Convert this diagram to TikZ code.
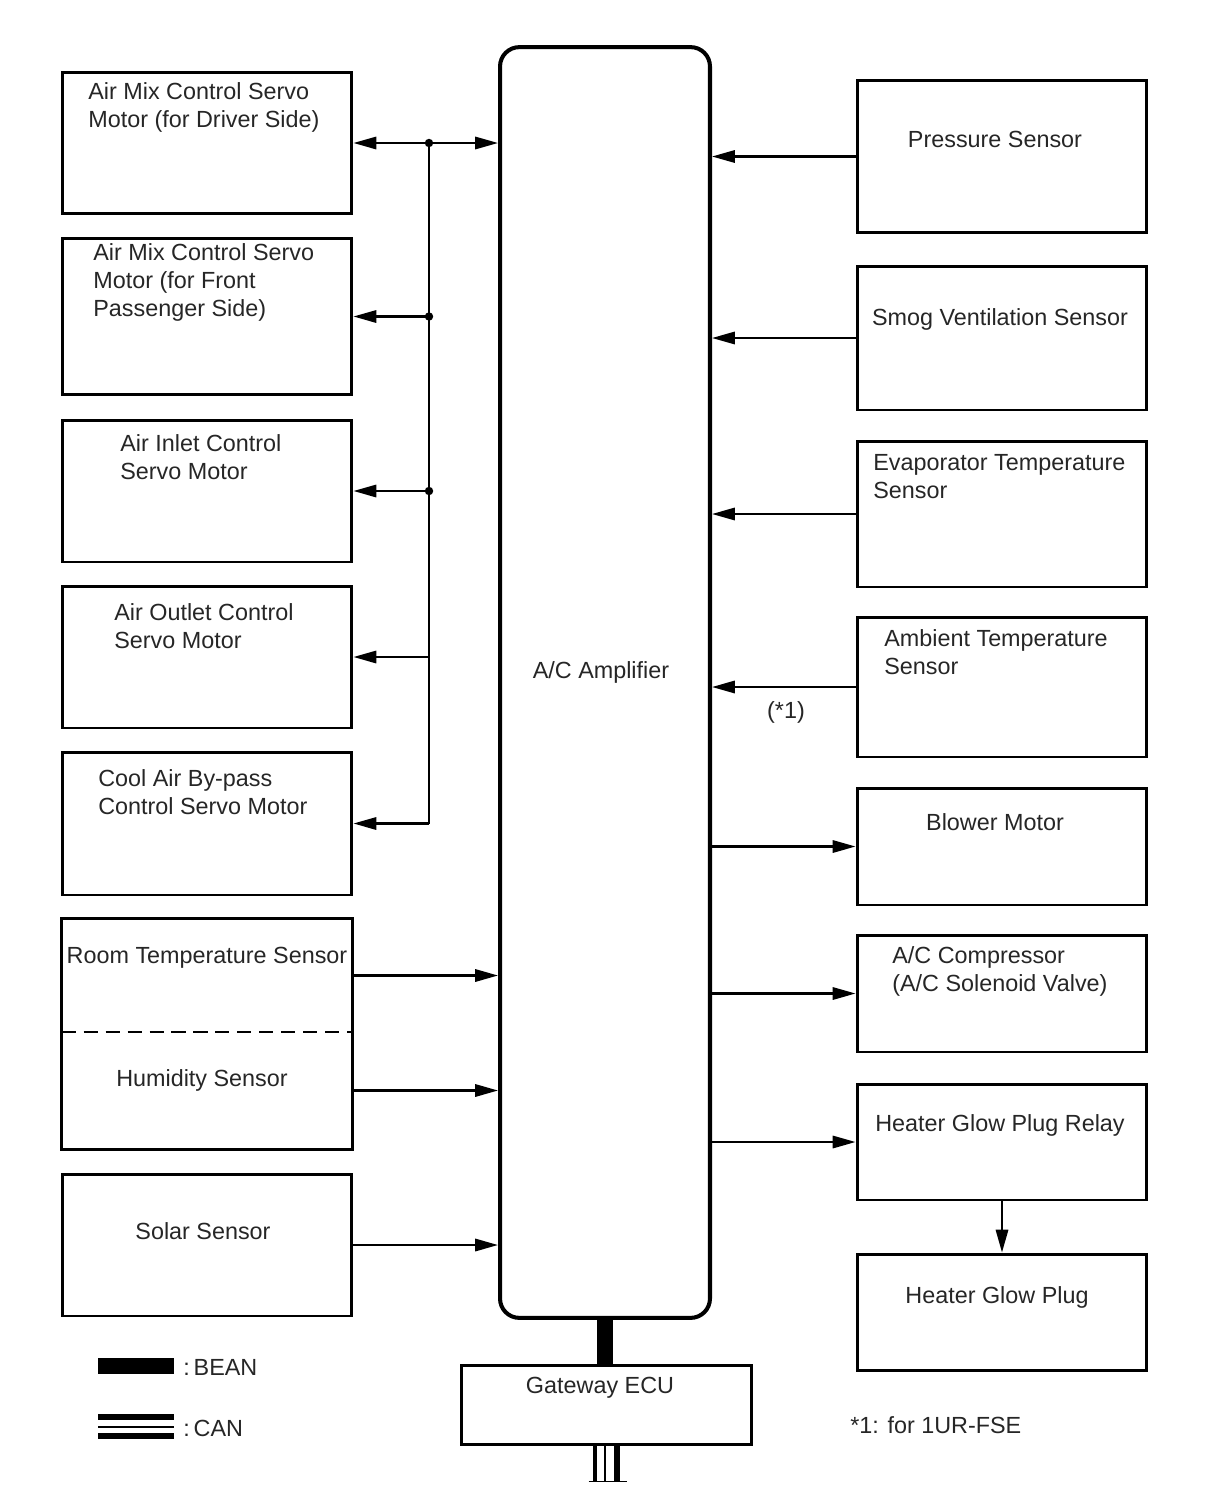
\documentclass[tikz,border=0pt]{standalone}
\usepackage{fontspec}
\setmainfont{Liberation Sans}
\usetikzlibrary{arrows.meta, positioning, calc}

\tikzset{
  box/.style={draw, line width=1.7pt, minimum width=5.8cm, inner sep=0pt},
  ampbox/.style={draw, line width=2.3pt, rounded corners=11pt, minimum width=4.2cm, minimum height=25.42cm},
  txt/.style={inner sep=0pt, text=black!85, align=left, font=\fontsize{13.3}{15.9}\selectfont},
  conn/.style={line width=1.3pt, -{Triangle[length=13pt, width=7pt]}},
  bus/.style={line width=1.3pt},
}

\begin{document}
\begin{tikzpicture}[x=0.02cm, y=-0.02cm]
    \useasboundingbox (0,0) rectangle (1210,1498);

    % A/C amplifier and gateway
    \node[ampbox] (amp) at (605,682.5) {};
    \node[txt, anchor=base] (amplbl) at (601,678) {A/C Amplifier};
    \node[box, minimum width=5.82cm, minimum height=1.58cm] (gw) at (606.5,1404.5) {};
    \node[txt, anchor=base] (gwlbl) at (600,1393) {Gateway ECU};

    % Left column
    \node[box, minimum height=2.84cm] (amd) at (207,143) {};
    \node[txt, anchor=north west] (amdlbl) at (88,82) {Air Mix Control Servo\\Motor (for Driver Side)};
    \node[box, minimum height=3.14cm] (amf) at (207,316.5) {};
    \node[txt, anchor=north west] (amflbl) at (93,243) {Air Mix Control Servo\\Motor (for Front\\Passenger Side)};
    \node[box, minimum height=2.84cm] (ain) at (207,491) {};
    \node[txt, anchor=north west] (ainlbl) at (120,434) {Air Inlet Control\\Servo Motor};
    \node[box, minimum height=2.84cm] (aout) at (207,657) {};
    \node[txt, anchor=north west] (aoutlbl) at (114,603) {Air Outlet Control\\Servo Motor};
    \node[box, minimum height=2.86cm] (cab) at (207,823.5) {};
    \node[txt, anchor=north west] (cablbl) at (98,769) {Cool Air By-pass\\Control Servo Motor};

    \node[minimum width=5.8cm, minimum height=2.26cm, inner sep=0pt] (room) at (207,975.5) {};
    \node[minimum width=5.8cm, minimum height=2.34cm, inner sep=0pt] (hum) at (207,1090.5) {};
    \draw[line width=1.7pt] (room.north west) rectangle (hum.south east);
    \draw[line width=1.1pt, dash pattern=on 8pt off 4.5pt] (room.south west) -- (room.south east);
    \node[txt, anchor=base] (roomlbl) at (207,963) {Room Temperature Sensor};
    \node[txt, anchor=base] (humlbl) at (202,1086) {Humidity Sensor};

    \node[box, minimum height=2.84cm] (solar) at (207,1245) {};
    \node[txt, anchor=base] (solarlbl) at (203,1239) {Solar Sensor};

    % Right column
    \node[box, minimum height=3.06cm] (press) at (1002,156.5) {};
    \node[txt, anchor=base] (presslbl) at (995,147) {Pressure Sensor};
    \node[box, minimum height=2.88cm] (smog) at (1002,338) {};
    \node[txt, anchor=base] (smoglbl) at (1000,325) {Smog Ventilation Sensor};
    \node[box, minimum height=2.92cm] (evap) at (1002,514) {};
    \node[txt, anchor=north west] (evaplbl) at (873,454.5) {Evaporator Temperature\\Sensor};
    \node[box, minimum height=2.8cm] (amb) at (1002,687) {};
    \node[txt, anchor=north west] (amblbl) at (884,629.5) {Ambient Temperature\\Sensor};
    \node[box, minimum height=2.34cm] (blow) at (1002,846.5) {};
    \node[txt, anchor=base] (blowlbl) at (995,830) {Blower Motor};
    \node[box, minimum height=2.34cm] (comp) at (1002,993.5) {};
    \node[txt, anchor=north west] (complbl) at (892,946.5) {A/C Compressor\\(A/C Solenoid Valve)};
    \node[box, minimum height=2.32cm] (relay) at (1002,1142) {};
    \node[txt, anchor=base] (relaylbl) at (1000,1131) {Heater Glow Plug Relay};
    \node[box, minimum height=2.32cm] (glow) at (1002,1312) {};
    \node[txt, anchor=base] (glowlbl) at (997,1303) {Heater Glow Plug};

    % Servo motor bus
    \coordinate (busx) at (429,0);
    \coordinate (j1) at (busx |- amd.east);
    \coordinate (j2) at (busx |- amf.east);
    \coordinate (j3) at (busx |- ain.east);
    \coordinate (j4) at (busx |- aout.east);
    \coordinate (j5) at (busx |- cab.east);
    \draw[bus] (j1) -- (j5);
    \draw[conn] (j1) -- (amd.east);
    \draw[conn] (j1) -- (j1 -| amp.west);
    \draw[conn] (j2) -- (amf.east);
    \draw[conn] (j3) -- (ain.east);
    \draw[conn] (j4) -- (aout.east);
    \draw[conn] (j5) -- (cab.east);
    \foreach \j in {j1, j2, j3}
        \fill (\j) circle (2.4pt);

    % Left sensors
    \draw[conn] (room.east) -- (room.east -| amp.west);
    \draw[conn] (hum.east) -- (hum.east -| amp.west);
    \draw[conn] (solar.east) -- (solar.east -| amp.west);

    % Right sensors and actuators
    \foreach \s in {press, smog, evap, amb}
        \draw[conn] (\s.west) -- (\s.west -| amp.east);
    \foreach \a in {blow, comp, relay}
        \draw[conn] (amp.east |- \a.west) -- (\a.west);
    \draw[conn] (relay.south) -- (glow.north);
    \node[txt, anchor=base] (note1) at (786,718) {(*1)};

    % BEAN and CAN
    \draw[line width=9pt] (amp.south) -- (amp.south |- gw.north);
    \coordinate (canb) at ($(gw.south)+(0,36)$);
    \draw[line width=2.8pt] ($(gw.south)+(-11.5,0)$) -- ($(canb)+(-11.5,0)$);
    \draw[line width=1.6pt] ($(gw.south)+(-1.5,0)$) -- ($(canb)+(-1.5,0)$);
    \draw[line width=3.4pt] ($(gw.south)+(10.5,0)$) -- ($(canb)+(10.5,0)$);
    \draw[line width=1.1pt] ($(canb)+(-18,0)$) -- ($(canb)+(20,0)$);

    % Legend
    \fill (98,1358) rectangle (174,1374);
    \node[txt, anchor=base west] (beanlbl) at (183,1375) {:\,BEAN};
    \draw[line width=3pt] (98,1417) -- (174,1417);
    \draw[line width=1.2pt] (98,1427) -- (174,1427);
    \draw[line width=3pt] (98,1436) -- (174,1436);
    \node[txt, anchor=base west] (canlbl) at (183,1436) {:\,CAN};
    \node[txt, anchor=base west] (footnote) at (850,1433) {*1: for 1UR-FSE};
\end{tikzpicture}
\end{document}
